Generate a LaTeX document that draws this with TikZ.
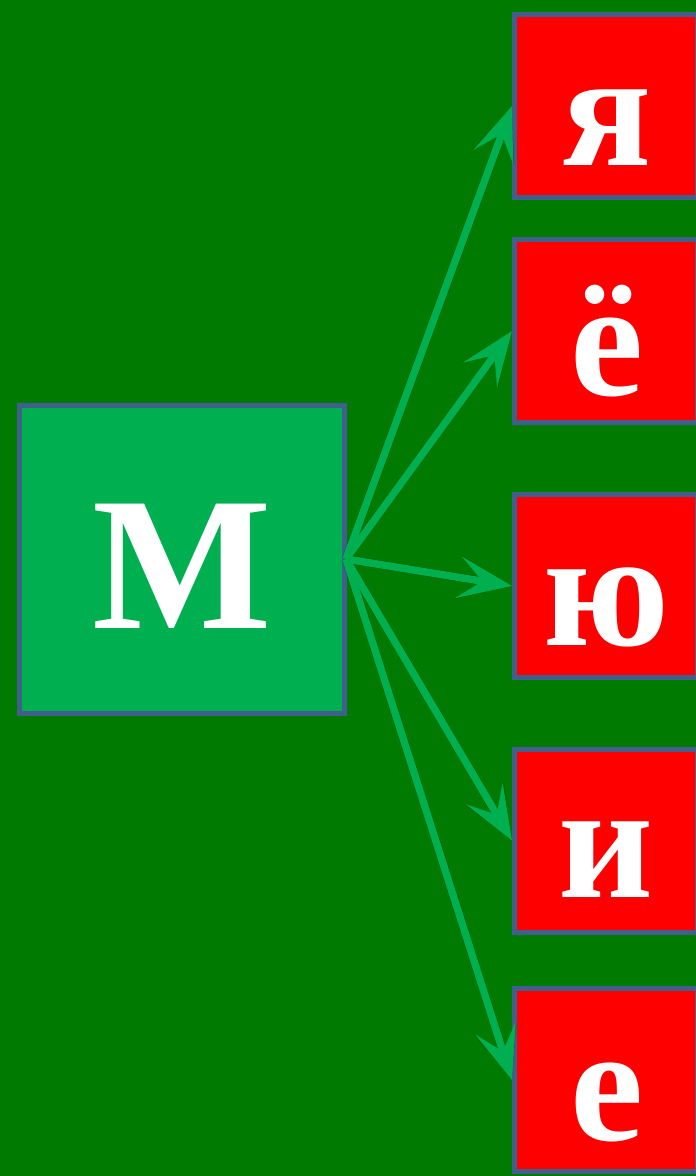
\documentclass[tikz,border=0pt]{standalone}
\usepackage{fontspec}
\setmainfont{Liberation Serif}
\usetikzlibrary{arrows.meta}
\definecolor{bg}{RGB}{0,122,0}
\definecolor{boxgreen}{RGB}{0,176,80}
\definecolor{edgeblue}{RGB}{65,95,140}
\definecolor{arrowgreen}{RGB}{0,176,80}
\begin{document}
\begin{tikzpicture}[x=1pt,y=-1pt,
  leftbox/.style={draw=edgeblue, fill=boxgreen, line width=5pt, inner sep=0pt, minimum width=325pt, minimum height=308pt},
  redbox/.style={draw=edgeblue, fill=red, line width=5pt, inner sep=0pt, minimum width=183pt, minimum height=183pt},
  bigletter/.style={text=white, anchor=base, inner sep=0pt, font=\fontsize{190}{190}\selectfont\bfseries},
  letter/.style={text=white, anchor=base, inner sep=0pt, font=\fontsize{165}{165}\selectfont\bfseries},
  conn/.style={draw=arrowgreen, line width=7.5pt, -{Stealth[length=54pt, width=42pt, inset=24pt]}},
  connshadow/.style={draw=black, opacity=0.2, line width=8.5pt, -{Stealth[length=54pt, width=44pt, inset=24pt]}}
]
\useasboundingbox (0,0) rectangle (696,1176);
\clip (0,0) rectangle (696,1176);
\fill[bg] (0,0) rectangle (696,1176);

\node[leftbox] (m) at (182,559.5) {};
\node[bigletter] (mt) at (182,628) {М};

\node[redbox] (b1) at (606,106) {};
\node[redbox] (b2) at (606,331) {};
\node[redbox] (b3) at (606,586) {};
\node[redbox] (b4) at (606,840.5) {};
\node[redbox] (b5) at (606,1080) {};

\node[letter] (t1) at (607,165) {я};
\node[letter] (t2) at (607,395) {ё};
\node[letter] (t3) at (607,645) {ю};
\node[letter] (t4) at (606,897) {и};
\node[letter] (t5) at (607,1140) {е};

\coordinate (s) at (346,559);
\begin{scope}[shift={(1.5,3)}]
  \foreach \b in {b1,b2,b3,b4,b5} \draw[connshadow] (s) -- (\b.west);
\end{scope}
\foreach \b in {b1,b2,b3,b4,b5} \draw[conn] (s) -- (\b.west);
\end{tikzpicture}
\end{document}
